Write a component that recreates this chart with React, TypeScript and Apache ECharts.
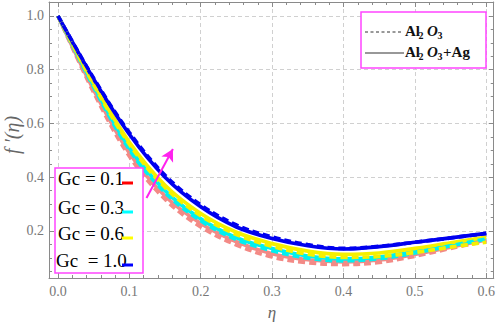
import React, { useEffect, useRef } from "react";
import * as echarts from "echarts";

// η grid
const eta = [0, 0.05, 0.1, 0.15, 0.2, 0.25, 0.3, 0.35, 0.4, 0.45, 0.5, 0.55, 0.6];

// Al2O3+Ag (solid)
const gc01 = [1.0, 0.725, 0.49, 0.33, 0.228, 0.16, 0.115, 0.093, 0.085, 0.092, 0.113, 0.14, 0.167];
const gc03 = [1.0, 0.74, 0.51, 0.35, 0.245, 0.175, 0.135, 0.107, 0.096, 0.103, 0.124, 0.15, 0.173];
const gc06 = [1.0, 0.75, 0.53, 0.37, 0.265, 0.195, 0.153, 0.125, 0.113, 0.118, 0.135, 0.156, 0.177];
const gc10 = [1.0, 0.765, 0.56, 0.4, 0.29, 0.215, 0.172, 0.145, 0.133, 0.142, 0.158, 0.174, 0.191];

// Al2O3 (dashed)
const gc01d = [1.0, 0.715, 0.478, 0.318, 0.215, 0.148, 0.103, 0.082, 0.075, 0.083, 0.106, 0.135, 0.163];
const gc03d = [1.0, 0.735, 0.503, 0.343, 0.238, 0.168, 0.127, 0.099, 0.089, 0.097, 0.118, 0.145, 0.17];
const gc06d = [1.0, 0.745, 0.523, 0.362, 0.257, 0.187, 0.143, 0.114, 0.102, 0.105, 0.12, 0.14, 0.158];
const gc10d = [1.0, 0.768, 0.566, 0.407, 0.297, 0.222, 0.178, 0.149, 0.135, 0.143, 0.158, 0.174, 0.191];

const gcLabels = ["Gc = 0.1", "Gc = 0.3", "Gc = 0.6", "Gc  = 1.0"];
const curveColors = ["#f38a86", "#00f0f0", "#f5f000", "#0000ee"];
const swatchColors = ["#ff0000", "#00ffff", "#ffff00", "#0000ff"];

// arrow annotation (data coordinates)
const arrowFrom = [0.124, 0.323];
const arrowTo = [0.161, 0.505];

const pairs = (ys: number[]) => eta.map((x, i) => [x, ys[i]]);

export default function App() {
  const ref = useRef<HTMLDivElement>(null);
  useEffect(() => {
    document.body.style.margin = "0";
    const chart = echarts.init(ref.current!, null, { renderer: "svg" });
    const serif = "Liberation Serif";
    const gray = "#8a8a8a";
    const solids = [gc01, gc03, gc06, gc10];
    const dashes = [gc01d, gc03d, gc06d, gc10d];
    const series: any[] = [];
    solids.forEach((s, i) => {
      series.push({
        type: "line",
        name: gcLabels[i] + " Al2O3+Ag",
        data: pairs(s),
        smooth: 0.35,
        showSymbol: false,
        symbol: "none",
        lineStyle: { color: curveColors[i], width: 3.7 },
        z: 2,
        ...(i === 3
          ? {
              markLine: {
                silent: true,
                symbol: ["none", "arrow"],
                symbolSize: [10, 12],
                label: { show: false },
                lineStyle: { color: "#ff22ee", width: 2, type: "solid" },
                data: [[{ coord: arrowFrom }, { coord: arrowTo }]],
              },
            }
          : {}),
      });
    });
    dashes.forEach((s, i) => {
      series.push({
        type: "line",
        name: gcLabels[i] + " Al2O3",
        data: pairs(s),
        smooth: 0.35,
        showSymbol: false,
        symbol: "none",
        lineStyle: { color: curveColors[i], width: 3.7, type: [7, 4] },
        z: 3,
      });
    });

    const labelFmt = (v: number) =>
      Math.abs(v * 10 - Math.round(v * 10)) < 1e-6 ? v.toFixed(1) : "";

    const xBase = {
      type: "value",
      min: -0.0126,
      max: 0.6105,
      splitNumber: 6,
      axisLine: { show: true, onZero: false, lineStyle: { color: gray, width: 1 } },
      axisTick: { show: true, inside: true, length: 5, lineStyle: { color: gray } },
      minorTick: { show: true, splitNumber: 5, length: 3, lineStyle: { color: gray } },
    };
    const yBase = {
      type: "value",
      min: 0.025,
      max: 1.052,
      splitNumber: 5,
      axisLine: { show: true, onZero: false, lineStyle: { color: gray, width: 1 } },
      axisTick: { show: true, inside: true, length: 5, lineStyle: { color: gray } },
      minorTick: { show: true, splitNumber: 4, length: 3, lineStyle: { color: gray } },
    };

    const legendRowsY = [178, 207, 233, 260];
    const legendTextX = [58, 58, 58, 56];
    const graphic: any[] = [
      {
        type: "rect",
        shape: { x: 55, y: 168, width: 88, height: 105 },
        style: { fill: "#fff", stroke: "#ff44ff", lineWidth: 1.5 },
        z: 100,
      },
      ...gcLabels.map((t, i) => ({
        type: "text",
        x: legendTextX[i],
        y: legendRowsY[i],
        style: {
          text: t,
          font: `19px '${serif}'`,
          fill: "#000",
          align: "left",
          verticalAlign: "middle",
          textAlign: "left",
          textVerticalAlign: "middle",
        },
        z: 101,
      })),
      ...swatchColors.map((c, i) => ({
        type: "line",
        shape: { x1: 122, y1: legendRowsY[i] + 5, x2: 133, y2: legendRowsY[i] + 5 },
        style: { stroke: c, lineWidth: 3 },
        z: 101,
      })),
      // top-right legend
      {
        type: "rect",
        shape: { x: 361, y: 12, width: 125, height: 56 },
        style: { fill: "#fff", stroke: "#ff44ff", lineWidth: 1.5 },
        z: 100,
      },
      {
        type: "line",
        shape: { x1: 365, y1: 32, x2: 403, y2: 32 },
        style: { stroke: "#333", lineWidth: 1, lineDash: [3, 2.5] },
        z: 101,
      },
      {
        type: "line",
        shape: { x1: 365, y1: 53, x2: 404, y2: 53 },
        style: { stroke: "#333", lineWidth: 1.2 },
        z: 101,
      },
    ];
    const rowY = [31, 52];
    rowY.forEach((y, r) => {
      const parts: any[] = [
        { t: "Al", x: 405, dy: 0, f: `bold 15px '${serif}'` },
        { t: "2", x: 418.5, dy: 4, f: `bold 10px '${serif}'` },
        { t: "O", x: 427, dy: 0, f: `italic bold 15px '${serif}'` },
        { t: "3", x: 437.5, dy: 4, f: `bold 10px '${serif}'` },
      ];
      if (r === 1) parts.push({ t: "+Ag", x: 443, dy: 0, f: `bold 15px '${serif}'` });
      parts.forEach((p) =>
        graphic.push({
          type: "text",
          x: p.x,
          y: y + p.dy,
          style: {
            text: p.t,
            font: p.f,
            fill: "#111",
            align: "left",
            verticalAlign: "middle",
            textAlign: "left",
            textVerticalAlign: "middle",
          },
          z: 101,
        })
      );
    });
    // axis names
    graphic.push({
      type: "text",
      x: 12,
      y: 135,
      rotation: Math.PI / 2,
      style: {
        text: "f ′(η)",
        font: `italic 20px '${serif}'`,
        fill: "#666",
        align: "center",
        verticalAlign: "middle",
        textAlign: "center",
        textVerticalAlign: "middle",
      },
      z: 101,
    });
    graphic.push({
      type: "text",
      x: 272,
      y: 312,
      style: {
        text: "η",
        font: `italic 17px '${serif}'`,
        fill: "#666",
        align: "center",
        verticalAlign: "middle",
        textAlign: "center",
        textVerticalAlign: "middle",
      },
      z: 101,
    });

    chart.setOption({
      animation: false,
      backgroundColor: "#fff",
      grid: { left: 49, right: 3, top: 2, bottom: 44 },
      xAxis: [
        {
          ...xBase,
          position: "bottom",
          axisLabel: {
            formatter: labelFmt,
            color: "#777",
            fontFamily: serif,
            fontSize: 14,
            margin: 6,
          },
          splitLine: { show: true, lineStyle: { color: "#d0d0d0", type: [4, 3] } },
        },
        {
          ...xBase,
          position: "top",
          axisLabel: { show: false },
          splitLine: { show: false },
        },
      ],
      yAxis: [
        {
          ...yBase,
          position: "left",
          axisLabel: {
            formatter: labelFmt,
            color: "#777",
            fontFamily: serif,
            fontSize: 14,
            margin: 5,
          },
          splitLine: { show: true, lineStyle: { color: "#d0d0d0", type: [4, 3] } },
        },
        {
          ...yBase,
          position: "right",
          axisLabel: { show: false },
          splitLine: { show: false },
        },
      ],
      series,
      graphic,
    });
    return () => chart.dispose();
  }, []);
  return <div ref={ref} style={{ width: 498, height: 322 }} />;
}
